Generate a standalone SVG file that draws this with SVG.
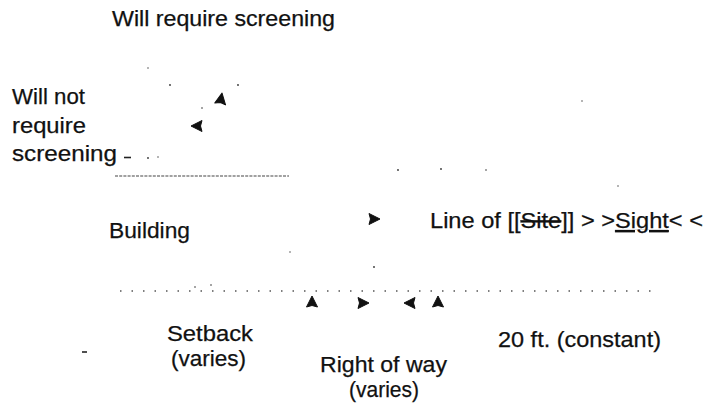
<svg xmlns="http://www.w3.org/2000/svg" width="707" height="407" viewBox="0 0 707 407">
<style>
  .lbl { font-family: "Liberation Sans", Arial, sans-serif; font-size: 22px; fill: #111; stroke: #111; stroke-width: 0.25; }
  .dots-dense { stroke: #444; stroke-width: 1.2; stroke-dasharray: 3 1.2; fill: none; }
  .dots-sparse { stroke: #555; stroke-width: 1.3; stroke-dasharray: 1.5 10; fill: none; }
  .speck { fill: #333; }
  .tick { stroke: #222; stroke-width: 1.6; }
</style>
<defs>
  <path id="ah" d="M6,0 L-5,-5.5 L-3.5,0 L-5,5.5 Z" fill="#111" stroke="#111" stroke-width="1" stroke-linejoin="round"/>
</defs>
<rect width="707" height="407" fill="#fff"/>

<g id="label-will-require">
  <text class="lbl" x="112" y="26" textLength="223" lengthAdjust="spacingAndGlyphs">Will require screening</text>
</g>
<g id="label-will-not-require">
  <text class="lbl" x="12" y="104" textLength="73" lengthAdjust="spacingAndGlyphs">Will not</text>
  <text class="lbl" x="12" y="133" textLength="74" lengthAdjust="spacingAndGlyphs">require</text>
  <text class="lbl" x="12" y="161" textLength="105" lengthAdjust="spacingAndGlyphs">screening</text>
</g>
<g id="label-building">
  <text class="lbl" x="109" y="238" textLength="81" lengthAdjust="spacingAndGlyphs">Building</text>
</g>
<g id="label-line-of-sight">
  <text class="lbl" x="430" y="228" textLength="273" lengthAdjust="spacingAndGlyphs">Line of [[<tspan text-decoration="line-through">Site</tspan>]] &gt; &gt;<tspan text-decoration="underline">Sight</tspan>&lt; &lt;</text>
</g>
<g id="label-setback">
  <text class="lbl" x="167" y="341" textLength="86" lengthAdjust="spacingAndGlyphs">Setback</text>
  <text class="lbl" x="171" y="366" textLength="75" lengthAdjust="spacingAndGlyphs">(varies)</text>
</g>
<g id="label-right-of-way">
  <text class="lbl" x="320" y="372" textLength="127" lengthAdjust="spacingAndGlyphs">Right of way</text>
  <text class="lbl" x="349" y="397" textLength="70" lengthAdjust="spacingAndGlyphs">(varies)</text>
</g>
<g id="label-20ft">
  <text class="lbl" x="498" y="347" textLength="163" lengthAdjust="spacingAndGlyphs">20 ft. (constant)</text>
</g>

<g id="connectors">
  <line class="dots-dense" x1="115" y1="176" x2="289" y2="176"/>
  <line class="dots-sparse" x1="120" y1="291" x2="660" y2="291"/>
  <line class="tick" x1="124" y1="157.5" x2="131" y2="157.5"/>
  <line class="tick" x1="82" y1="352" x2="87" y2="352"/>
  <use href="#ah" transform="translate(221,99) rotate(-80)"/>
  <use href="#ah" transform="translate(197,126) rotate(180)"/>
  <use href="#ah" transform="translate(374,219)"/>
  <use href="#ah" transform="translate(312,302) rotate(-90)"/>
  <use href="#ah" transform="translate(363,303)"/>
  <use href="#ah" transform="translate(410,303) rotate(180)"/>
  <use href="#ah" transform="translate(438,302) rotate(-90)"/>
  <circle class="speck" cx="170" cy="85" r="0.9"/>
  <circle class="speck" cx="238" cy="85" r="0.9"/>
  <circle class="speck" cx="202" cy="108" r="0.8"/>
  <circle class="speck" cx="148" cy="158" r="0.9"/>
  <circle class="speck" cx="158" cy="157" r="0.7"/>
  <circle class="speck" cx="148" cy="68" r="0.7"/>
  <circle class="speck" cx="398" cy="170" r="0.9"/>
  <circle class="speck" cx="441" cy="169" r="0.9"/>
  <circle class="speck" cx="486" cy="170" r="0.8"/>
  <circle class="speck" cx="618" cy="186" r="0.7"/>
  <circle class="speck" cx="582" cy="101" r="0.7"/>
  <circle class="speck" cx="374" cy="267" r="0.9"/>
  <circle class="speck" cx="290" cy="252" r="0.7"/>
  <circle class="speck" cx="195" cy="287" r="0.8"/>
  <circle class="speck" cx="211" cy="285" r="0.8"/>
</g>
</svg>
